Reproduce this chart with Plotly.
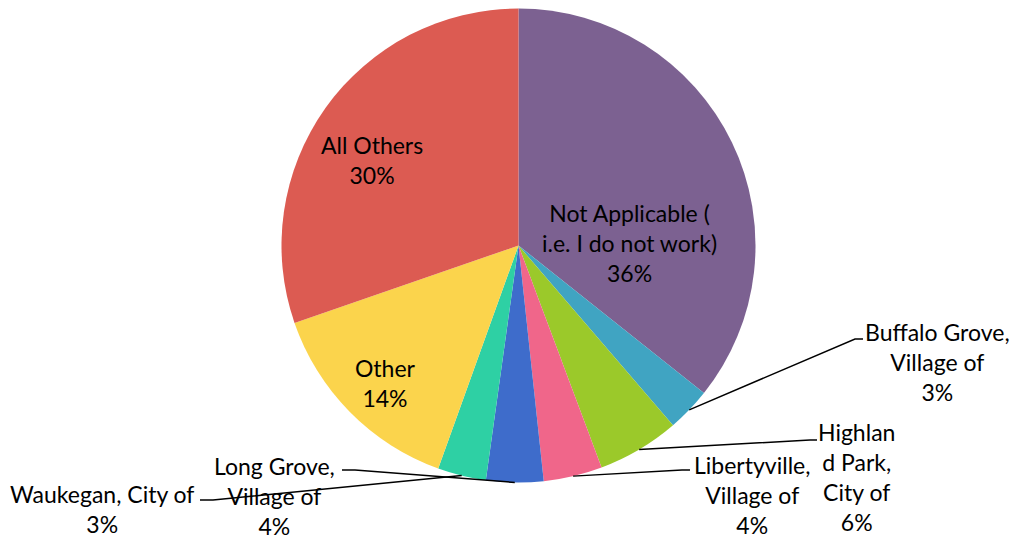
import math
import plotly.graph_objects as go

# Where respondents work (share of responses)
labels = [
    "Not Applicable (<br>i.e. I do not work)",
    "Buffalo Grove,<br>Village of",
    "Highlan<br>d Park,<br>City of",
    "Libertyville,<br>Village of",
    "Long Grove,<br>Village of",
    "Waukegan, City of",
    "Other",
    "All Others",
]
values = [35.7, 3.0, 5.6, 4.0, 3.9, 3.3, 14.2, 30.3]
colors = ["#7C6191", "#40A4C2", "#9BC92A", "#F0668A", "#3E6CCB", "#2ED0A4", "#FBD44C", "#DC5B52"]

W, H = 1014, 539
CX, CY, R = 518.5, 245.5, 237.0

# label block centres (px) and leader elbows/ends (None = label sits inside slice)
label_pos = [(629, 243), (937, 362), (856, 477), (752, 495), (274, 496), (102, 509), (385, 383), (372, 160)]
leaders = [
    None,
    [(855, 339), (863, 339)],
    [(810, 440), (817, 440)],
    [(682, 470), (690, 470)],
    [(355, 470), (342, 470)],
    [(213, 500), (200, 500)],
    None,
    None,
]

FONT = dict(family="Lato, Arial, sans-serif", size=23, color="#000000")


def px(x, y):
    return x / W, 1 - y / H


fig = go.Figure(
    go.Pie(
        labels=labels,
        values=values,
        sort=False,
        direction="clockwise",
        rotation=0,
        marker=dict(colors=colors, line=dict(width=0)),
        textinfo="none",
        hoverinfo="label+percent",
        showlegend=False,
        domain=dict(x=[(CX - R) / W, (CX + R) / W], y=[1 - (CY + R) / H, 1 - (CY - R) / H]),
    )
)

total = sum(values)
annotations = []
shapes = []
cum = 0.0
for lab, v, pos, leg in zip(labels, values, label_pos, leaders):
    pct = round(100 * v / total)
    mid = (cum + v / 2) / total
    cum += v
    ax, ay = px(*pos)
    annotations.append(dict(
        x=ax, y=ay, xref="paper", yref="paper", xanchor="center", yanchor="middle",
        text=f"{lab}<br>{pct}%", showarrow=False, font=FONT, align="center",
    ))
    if leg:
        ang = 2 * math.pi * mid
        sx, sy = CX + R * math.sin(ang), CY - R * math.cos(ang)
        pts = [(sx, sy)] + leg
        path = "M " + " L ".join(f"{px(x, y)[0]:.5f},{px(x, y)[1]:.5f}" for x, y in pts)
        shapes.append(dict(type="path", xref="paper", yref="paper", path=path,
                           line=dict(color="#000000", width=1.5)))

fig.update_layout(
    width=W, height=H,
    margin=dict(l=0, r=0, t=0, b=0),
    paper_bgcolor="white",
    plot_bgcolor="white",
    annotations=annotations,
    shapes=shapes,
)

fig.write_html("out.html")
